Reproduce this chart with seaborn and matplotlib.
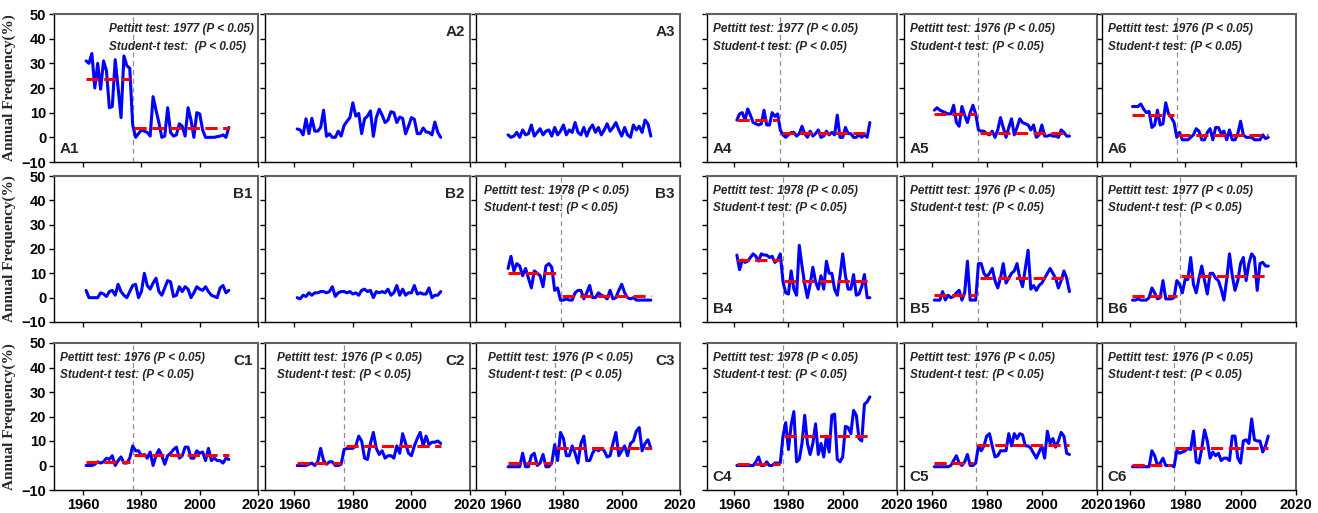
import matplotlib
matplotlib.use("Agg")
import matplotlib.pyplot as plt
import seaborn as sns

years = list(range(1961, 2011))

A1 = [31, 30, 34, 20, 30, 19.5, 31, 27, 12, 12.5,
      31.5, 20, 8, 33, 29, 28, 5, 0, 1.5, 3,
      2.5, 2, 0.5, 16.5, 11, 6, 0, 0.5, 12, 2,
      0.5, 1, 5.5, 4.5, 0.5, 12, 7, 0, 10, 9.5,
      3, 0, 0, 0, 0, 0.3, 0.5, 1, 0, 4]
A2 = [3.4, 3, 1, 7.5, 1.5, 7.7, 2.5, 2.5, 4, 11,
      0.4, 1.4, 0, 0, 2.5, 0.5, 4.8, 6.5, 8, 14,
      8.6, 9.7, 1.5, 7.5, 8.6, 10.7, 0.4, 8, 11.4, 9,
      6, 7, 10.4, 10, 6, 8.2, 7.7, 1.4, 4.5, 8,
      7.3, 1.5, 1.5, 3.8, 2.2, 2, 1, 6.2, 2, 0]
A3 = [1, 0, 0.5, 2, 0, 3, 1, 1.5, 5, 0.5,
      2, 3.5, 1, 2.5, 3, 0.5, 4, 1, 2.5, 5,
      1, 3, 2, 6, 2, 1, 4, 0.5, 3.5, 5,
      2, 4, 1, 3, 5.5, 2.5, 4, 6, 3, 0.5,
      4, 1, 0, 5, 3, 4.5, 2, 7, 5.5, 0.5]
A4 = [7, 9.5, 10, 7, 11.5, 9, 6, 5.5, 5, 5.5,
      11, 5, 5, 10, 8.5, 9.5, 3, 1, 0, 1,
      2, 2, 0.5, 1.5, 4.5, 1.5, 0, 2.5, 0.5, 1.5,
      3, 0, 0.5, 2.5, 1, 2, 1, 9, 0, 0,
      4, 1.5, 1.5, 0, 0, 1, 0, 1, 0, 6]
A5 = [11, 12, 11, 10.5, 10, 9.5, 9.5, 13, 6, 4.5,
      12.5, 9, 6, 10, 13, 9.5, 3, 2.5, 2.5, 1.5,
      1, 2.5, 0, 3, 8, 4, 0, 4, 7.5, 1,
      4, 7.5, 6, 5.5, 5, 3, 5, 0, 1, 5,
      0.5, 0.5, 1, 0.5, 0.5, 0, 3, 2, 0.5, 0.5]
A6 = [12.5, 12.5, 12.5, 13.5, 11.5, 10, 10.5, 4, 5, 11,
      5, 5.5, 14, 9.5, 8, 6, 0, 2, -1, -1,
      -1, 0, 1, 3.5, 2.5, -1, -1, 2, 3.5, -1,
      4, 4, 1.5, 2.5, -1, 3, -1, -1, 1.5, 6.5,
      1, 0, 0, 0, -1, -1, -1, 1, -0.5, 0]
B1 = [3, 0, 0, 0, 0, 2, 1.5, 0.5, 2.5, 3,
      1, 5.5, 2.5, 1, 0, 2.5, 5, 5.5, 0, 2.5,
      10, 5, 3.5, 6, 8, 2.5, 1, 4, 7, 6.5,
      0.5, 1, 4.5, 2.5, 4.5, 3.5, 0, 2, 4.5, 3.5,
      3, 4.5, 2.5, 1, 0.5, 0, 4, 5, 2, 3]
B2 = [0, -0.5, 1, 0.5, 2, 1, 2, 2, 2.5, 2.5,
      2, 2.5, 4.5, 0.5, 2, 2.5, 2.5, 2, 2.5, 1.5,
      2, 1, 3, 3.5, 2.5, 3, 0, 2.5, 2, 2.5,
      2, 3.5, 1, 2, 5, 1, 3.5, 1, 2, 2,
      5, 1.5, 2, 1.5, 1.5, 4, 0, 1, 1, 2.5]
B3 = [12, 17, 11, 14, 13, 9, 12, 8, 4, 11,
      10, 9, 4.5, 13, 14, 12.5, 3, 4, -1, -1,
      -0.5, -1, -1, 2, 3, 3, -0.5, 2, 5, 0,
      0, 2, 1, 0.5, -0.5, 3, -0.5, 0, 3, 5.5,
      2, 0, -0.5, 0, -1, -1, -1, -1, -1, -1]
B4 = [17.5, 11.5, 15.5, 14.5, 15, 16.5, 18, 17, 15, 18,
      17.5, 17.5, 16.5, 17, 14.5, 15.5, 18, 6.5, 2, 1.5,
      11, 3.5, 1, 21.5, 13, 5.5, 0, 5.5, 12.5, 6.5,
      3.5, 9, 3.5, 15, 10, 10, 3.5, 1, 9, 18,
      9, 3.5, 3.5, 9.5, 1, 1.5, 4.5, 9.5, 0, 0]
B5 = [-1, -1, -1, 2.5, -1, 1, 0, 0.5, 2, 3,
      -1, 2, 15, -1, -1, -1, 14, 14, 10, 8.5,
      10, 12, 7, 4, 8, 14, 6, 8, 10, 11,
      14, 8, 4.5, 12, 19.5, 3.5, 5, 3, 5, 6,
      8, 10, 12, 10, 8, 4, 7, 11, 8, 2.5]
B6 = [-1, -1, -0.5, -1, -1, -1, 0, 4, 2, -0.5,
      0, 7, -0.5, -0.5, -0.5, 0, 7, 5.5, 2, 7.5,
      7.5, 16.5, 5.5, 2, 8, 13, 7, 1.5, 10, 10,
      8, 7, 3.5, -1, 7.5, 18, 9, 3, 7, 14,
      16.5, 7, 14, 18, 16.5, 3, 14, 14.5, 13, 13]
C1 = [0, 0, 0, 0.5, 1.5, 1, 1.5, 3, 2.5, 4,
      0, 2, 3.5, 1, 1, 3, 8, 6, 6, 4,
      4.5, 3, 5.5, 0, 4, 6.5, 4, 0.5, 4, 5,
      6.5, 7.5, 3, 4, 7.5, 7.5, 3, 3, 6, 5,
      5.5, 2, 7, 2, 3, 2, 2, 1, 3, 2.5]
C2 = [0, 0, 0, 0, 0.5, 1, 0, 1.5, 7, 2,
      0.5, 1.5, 1.5, 0, 0, 0.5, 6.5, 7, 7, 7,
      8, 12, 10, 3, 2.5, 9, 13.5, 7, 4.5, 6,
      3, 4, 4, 3, 8, 5, 13, 9, 5, 4,
      8, 11, 13.5, 8, 12, 8.5, 9.5, 9.5, 10, 9]
C3 = [-0.5, -0.5, -0.5, -0.5, -0.5, 5, -0.5, -0.5, 4, 5,
      0, 1, 4.5, -0.5, -0.5, 1, 8.5, 2, 13.5, 11,
      4, 4, 8, 5, 1, 9, 12, 2, 2, 5,
      7, 6, 7, 6, 3.5, 4, 9, 13.5, 4, 6,
      8, 4, 9, 10, 14, 15.5, 6, 9, 10.5, 7]
C4 = [0, 0, 0, 0, 0, 0, 0, 1.5, 3.5, 0,
      0, 1.5, 0, 0, 1, 1, 1, 12, 17.5, 6.5,
      16.5, 22, 1.5, 2.5, 9, 20.5, 9, 4.5, 9, 17,
      4.5, 9, 3.5, 12, 5.5, 20.5, 21, 2.5, 1.5, 3.5,
      16, 15.5, 13, 22.5, 20.5, 11, 10, 25, 26, 28]
C5 = [-0.5, -0.5, -0.5, -0.5, -0.5, -0.5, 0, 2, 4, 1,
      0, 1.5, 4.5, 0, 0, 1, 8, 6, 8, 12,
      13, 8, 3.5, 4, 6, 6, 6, 13, 8, 13,
      11, 13, 12.5, 8, 8, 7, 5, 3, 5.5, 8,
      3, 14, 9, 11, 7.5, 10, 13.5, 12, 5, 4.5]
C6 = [-0.5, -0.5, -0.5, -0.5, -0.5, -0.5, -0.5, 6, 4, 0,
      1, 3, 0, 0, 0, -0.5, 6, 5, 5.5, 6,
      7, 6.5, 14, 1.5, 1, 7, 14.5, 10, 3, 5.5,
      4, 5, 2, 3, 3, 2, 12, 12, 3, 1,
      10, 10.5, 9, 19, 10.5, 10, 10, 5.5, 8, 12]

panel_names = ["A1", "A2", "A3", "A4", "A5", "A6",
               "B1", "B2", "B3", "B4", "B5", "B6",
               "C1", "C2", "C3", "C4", "C5", "C6"]
series = [A1, A2, A3, A4, A5, A6, B1, B2, B3, B4, B5, B6,
          C1, C2, C3, C4, C5, C6]
# Pettitt change year (None = no significant change)
pettitt_year = [1977, None, None, 1977, 1976, 1976,
                None, None, 1978, 1978, 1976, 1977,
                1976, 1976, 1976, 1978, 1976, 1976]
# where the grey dashed line sits in the figure
break_line = [1977, None, None, 1977, 1977, 1977,
              None, None, 1979, 1978, 1977, 1978,
              1977, 1977, 1977, 1978, 1976, 1976]
mean_before = [23.8, None, None, 7.0, 9.5, 9.0,
               None, None, 10.2, 15.5, 1.2, 0.5,
               1.6, 1.0, 1.1, 0.7, 1.0, 0.4]
mean_after = [3.6, None, None, 1.8, 1.9, 1.1,
              None, None, 0.7, 6.8, 8.0, 9.0,
              4.4, 7.8, 7.3, 12.0, 8.4, 7.2]

W, H = 1318, 513
sns.set_style("ticks")
plt.rcParams["font.family"] = ["Liberation Sans", "DejaVu Sans"]
plt.rcParams["font.weight"] = "bold"

fig = plt.figure(figsize=(W / 100, H / 100), dpi=100)
fig.patch.set_facecolor("white")

col_px = [(54, 258), (265, 470), (476, 680), (707, 897), (904, 1097), (1102, 1296)]
row_px = [(14, 162), (176, 322), (343, 490)]
text_x = {"A1": 0.27, "B3": 0.04, "C1": 0.03, "C2": 0.06, "C3": 0.06}

for i, name in enumerate(panel_names):
    r, c = divmod(i, 6)
    l, rt = col_px[c]
    t, b = row_px[r]
    ax = fig.add_axes([l / W, 1 - b / H, (rt - l) / W, (b - t) / H])
    ax.set_facecolor("white")

    sns.lineplot(x=years, y=series[i], color="blue", linewidth=2.2, ax=ax)

    py = pettitt_year[i]
    if py is not None:
        bl = break_line[i]
        ax.axvline(bl, color="#909090", lw=0.9, dashes=(4, 3), zorder=1)
        ax.plot([1961, bl - 1], [mean_before[i]] * 2, color="red", lw=2.2,
                dashes=(4, 1.8), zorder=3)
        ax.plot([bl + 0.5, 2010], [mean_after[i]] * 2, color="red", lw=2.2,
                dashes=(4, 1.8), zorder=3)
        sp = "  " if name == "A1" else " "
        tx = text_x.get(name, 0.03)
        ax.text(tx, 0.9, f"Pettitt test: {py} (P < 0.05)", transform=ax.transAxes,
                fontsize=8.5, fontstyle="italic", fontweight="bold", va="center", ha="left")
        ax.text(tx, 0.78, f"Student-t test:{sp}(P < 0.05)", transform=ax.transAxes,
                fontsize=8.5, fontstyle="italic", fontweight="bold", va="center", ha="left")

    if c < 3 and name != "A1":
        ax.text(0.975, 0.88, name, transform=ax.transAxes, fontsize=11,
                fontweight="bold", ha="right", va="center")
    else:
        ax.text(0.03, 0.09, name, transform=ax.transAxes, fontsize=11,
                fontweight="bold", ha="left", va="center")

    ax.set_xlim(1950, 2020)
    ax.set_ylim(-10, 50)
    ax.set_xticks([1960, 1980, 2000, 2020])
    ax.set_yticks(range(-10, 51, 10))
    ax.tick_params(direction="out", length=3.5, width=1, colors="black",
                   labelsize=10.5, pad=2)
    if r < 2:
        ax.set_xticklabels([])
    else:
        for lab in ax.get_xticklabels():
            lab.set_fontweight("bold")
    if c == 0:
        for lab in ax.get_yticklabels():
            lab.set_fontweight("bold")
        ax.set_ylabel("Annual Frequency(%)", fontsize=11, fontweight="bold",
                      family="Liberation Serif", labelpad=4)
    else:
        ax.set_yticklabels([])
        ax.set_ylabel("")
    ax.set_xlabel("")

    for s in ["left", "bottom"]:
        ax.spines[s].set_color("black")
        ax.spines[s].set_linewidth(1.0)
    for s in ["top", "right"]:
        ax.spines[s].set_color("#606060")
        ax.spines[s].set_linewidth(1.5)

fig.savefig("out.png", dpi=100)
